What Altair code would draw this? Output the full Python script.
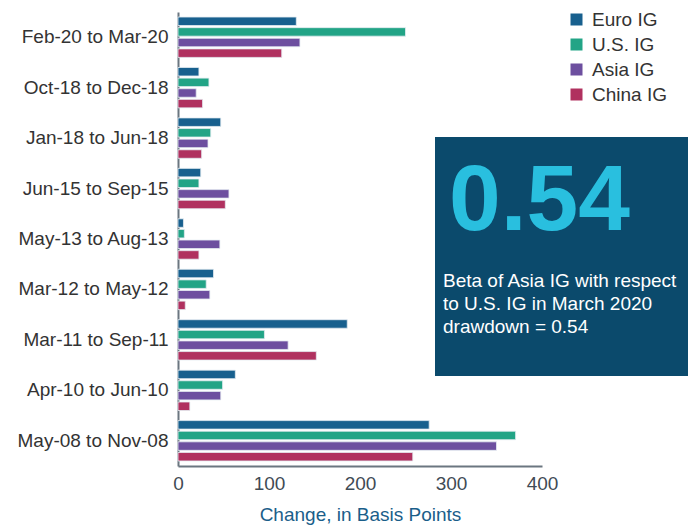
import altair as alt
import pandas as pd

categories = ["Feb-20 to Mar-20", "Oct-18 to Dec-18", "Jan-18 to Jun-18", "Jun-15 to Sep-15",
              "May-13 to Aug-13", "Mar-12 to May-12", "Mar-11 to Sep-11", "Apr-10 to Jun-10",
              "May-08 to Nov-08"]
series = ["Euro IG", "U.S. IG", "Asia IG", "China IG"]
euro_ig = [130, 23, 47, 25, 6, 39, 186, 63, 276]
us_ig = [250, 34, 36, 23, 7, 31, 95, 49, 371]
asia_ig = [134, 20, 33, 56, 46, 35, 121, 47, 350]
china_ig = [114, 27, 26, 52, 23, 8, 152, 13, 258]
colors = ["#18608e", "#22a486", "#6d4f9f", "#b0315f"]
x_ticks = [0, 100, 200, 300, 400]

big_number = "0.54"
note_lines = ["Beta of Asia IG with respect", "to U.S. IG in March 2020", "drawdown = 0.54"]

rows = []
for s, vals in zip(series, [euro_ig, us_ig, asia_ig, china_ig]):
    for c, v in zip(categories, vals):
        rows.append({"period": c, "series": s, "value": v})
df = pd.DataFrame(rows)

FONT = "Liberation Sans"

bars = alt.Chart(df).mark_bar(stroke="#e4ecf1", strokeWidth=0.8).encode(
    x=alt.X("value:Q", scale=alt.Scale(domain=[0, 400], nice=False),
            axis=alt.Axis(values=x_ticks, title="Change, in Basis Points", grid=False, ticks=False,
                          domainColor="#6b7680", domainWidth=2, labelFontSize=19, labelColor="#3f4b55",
                          labelPadding=8, labelFlush=False, labelOverlap=False,
                          titleFontSize=19, titleFontWeight="normal", titleColor="#1a5e8a",
                          titlePadding=12, labelFont=FONT, titleFont=FONT)),
    y=alt.Y("period:N", sort=categories,
            scale=alt.Scale(paddingInner=0.2, paddingOuter=0.1),
            axis=alt.Axis(title=None, ticks=False, domainColor="#6b7680", domainWidth=2,
                          labelFontSize=19, labelColor="#333333", labelPadding=10, labelFont=FONT,
                          labelLimit=300)),
    yOffset=alt.YOffset("series:N", sort=series, scale=alt.Scale(paddingInner=0.2, paddingOuter=0)),
    color=alt.Color("series:N", sort=series, scale=alt.Scale(domain=series, range=colors),
                    legend=alt.Legend(title=None, orient="none", legendX=389, legendY=-2,
                                      symbolType="square", symbolSize=144, symbolStrokeWidth=0,
                                      labelFontSize=19, labelColor="#333333", labelFont=FONT,
                                      labelOffset=6, rowPadding=5, padding=0)),
)

box = alt.Chart(pd.DataFrame({"a": [1]})).mark_rect(color="#0b4a6c").encode(
    x=alt.value(257), x2=alt.value(510), y=alt.value(125), y2=alt.value(364)
)

num = alt.Chart(pd.DataFrame({"t": [big_number]})).mark_text(
    font=FONT, fontSize=93, fontWeight="bold", color="#29bfdf", align="left", baseline="alphabetic"
).encode(text="t:N", x=alt.value(271), y=alt.value(218))

note = alt.Chart(pd.DataFrame({"a": [1]})).mark_text(
    font=FONT, fontSize=19, color="white", align="left", baseline="alphabetic", lineHeight=23
).encode(text=alt.value(note_lines), x=alt.value(265), y=alt.value(275))

chart = alt.layer(bars, box, num, note).properties(
    width=364, height=454,
    autosize=alt.AutoSizeParams(type="none"),
    padding={"left": 170, "top": 4, "right": 146, "bottom": 60},
).configure_view(stroke=None)

chart.save("out.html", embed_options={"renderer": "svg", "actions": False})
